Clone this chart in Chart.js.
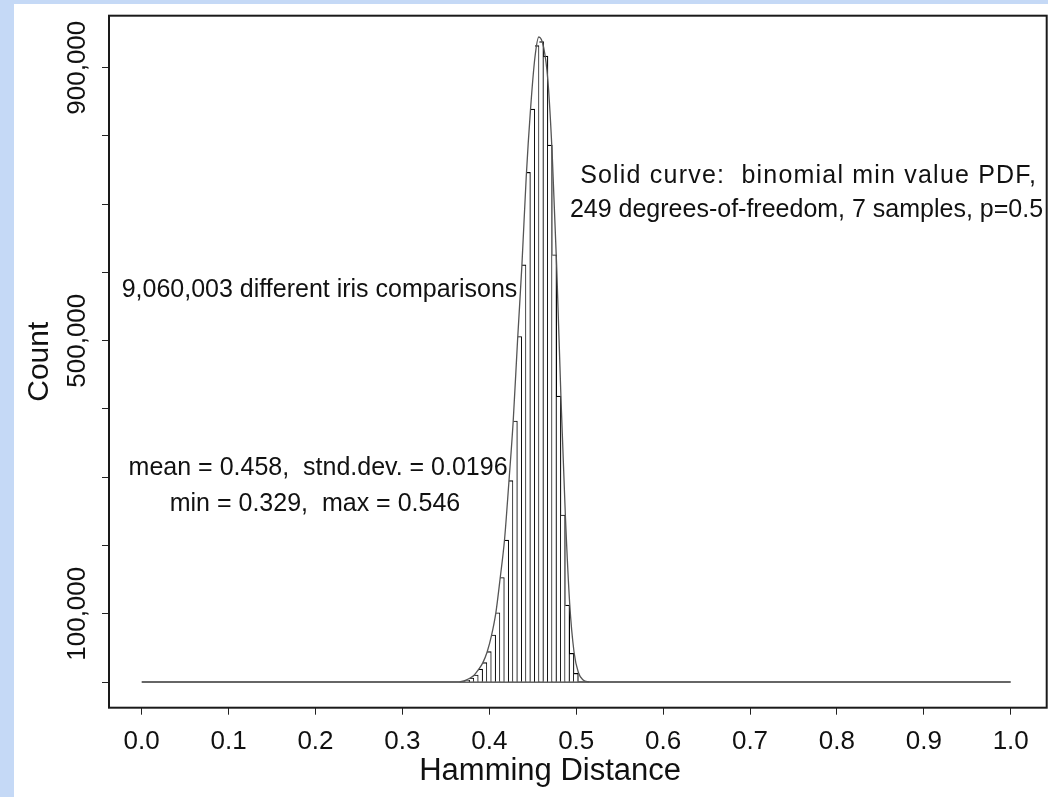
<!DOCTYPE html>
<html>
<head>
<meta charset="utf-8">
<script src="https://cdn.jsdelivr.net/npm/chart.js@4/dist/chart.umd.min.js"></script>
<style>
  html, body { margin: 0; padding: 0; background: #c5d9f6; }
  #wrap { position: absolute; left: 14px; top: 4px; width: 1034px; height: 793px; background: #fff; }
  canvas { display: block; }
</style>
</head>
<body>
<div id="wrap"><canvas id="hdChart" width="1034" height="793"></canvas></div>
<script>
// histogram of Hamming distances (bin centres, counts)
var binCenters = [0.375, 0.380, 0.385, 0.390, 0.395, 0.400, 0.405, 0.410, 0.415, 0.420,
                  0.425, 0.430, 0.435, 0.440, 0.445, 0.450, 0.455, 0.460, 0.465, 0.470,
                  0.475, 0.480, 0.485, 0.490, 0.495, 0.500];
var binCounts = [2900, 5900, 10300, 18800, 28300, 44400, 68900, 101500, 153100, 208000,
                 295200, 382400, 506200, 611300, 746700, 839400, 932500, 938300, 917100, 786700,
                 626000, 419000, 244700, 112800, 42000, 12700];

// solid curve (binomial min value PDF)
var curveX = [0.366, 0.3725, 0.3775, 0.3825, 0.3875, 0.3925, 0.3975, 0.4025, 0.4075, 0.4125,
              0.4175, 0.4225, 0.4275, 0.4325, 0.4375, 0.4425, 0.4475, 0.4525, 0.457, 0.4625,
              0.4675, 0.4725, 0.4775, 0.4825, 0.4875, 0.4925, 0.4975, 0.5025, 0.508, 0.515];
var curveY = [0, 2500, 5500, 10000, 18000, 28000, 44000, 68000, 101000, 152000,
              208000, 292000, 382000, 500000, 610000, 740000, 840000, 915000, 945000, 930000,
              880000, 770000, 610000, 415000, 245000, 115000, 44000, 14000, 3000, 0];

var baseX = [0, 1];
var baseY = [0, 0];

var xTicks = [0, 0.1, 0.2, 0.3, 0.4, 0.5, 0.6, 0.7, 0.8, 0.9, 1.0];
var yTicks = [0, 100000, 200000, 300000, 400000, 500000, 600000, 700000, 800000, 900000];
var yLabelValues = [100000, 500000, 900000];

var xTitle = 'Hamming Distance';
var yTitle = 'Count';

var notes = [
  { text: 'Solid curve:  binomial min value PDF,', x: 0.7675, y: 741300, align: 'center', spacing: 1.2 },
  { text: '249 degrees-of-freedom, 7 samples, p=0.5', x: 0.765, y: 691500, align: 'center', spacing: 0 },
  { text: '9,060,003 different iris comparisons', x: -0.023, y: 573500, align: 'left', spacing: 0 },
  { text: 'mean = 0.458,  stnd.dev. = 0.0196', x: 0.203, y: 313500, align: 'center', spacing: 0 },
  { text: 'min = 0.329,  max = 0.546', x: 0.1994, y: 260800, align: 'center', spacing: 0 }
];

var FONT = '"Liberation Sans", Arial, Helvetica, sans-serif';

var extras = {
  id: 'extras',
  afterDraw: function (chart) {
    var ctx = chart.ctx;
    var a = chart.chartArea;
    var xs = chart.scales.x, ys = chart.scales.y;
    ctx.save();
    // plot frame
    ctx.strokeStyle = '#1a1a1a';
    ctx.lineWidth = 2;
    ctx.strokeRect(a.left, a.top, a.right - a.left, a.bottom - a.top);
    // vertical y tick labels
    ctx.fillStyle = '#111';
    ctx.font = '26px ' + FONT;
    ctx.textAlign = 'center';
    ctx.textBaseline = 'middle';
    yLabelValues.forEach(function (v) {
      ctx.save();
      ctx.translate(a.left - 31.5, ys.getPixelForValue(v));
      ctx.rotate(-Math.PI / 2);
      ctx.fillText(v.toLocaleString('en-US'), 0, 0);
      ctx.restore();
    });
    // x axis title (sits a little left of centre in the original)
    ctx.font = '31px ' + FONT;
    ctx.fillText(xTitle, xs.getPixelForValue(0.47), chart.height - 26);
    // annotations
    ctx.font = '25px ' + FONT;
    notes.forEach(function (n) {
      ctx.textAlign = n.align;
      ctx.letterSpacing = n.spacing + 'px';
      ctx.fillText(n.text, xs.getPixelForValue(n.x), ys.getPixelForValue(n.y));
    });
    ctx.restore();
  }
};

var ctx = document.getElementById('hdChart');

var hdChart = new Chart(ctx, {
  type: 'line',
  data: {
    datasets: [{
      type: 'line',
      label: 'PDF',
      data: curveX.map(function (x, i) { return { x: x, y: curveY[i] }; }),
      borderColor: '#555555',
      borderWidth: 1.3,
      pointRadius: 0,
      fill: false,
      cubicInterpolationMode: 'monotone',
      order: 0
    }, {
      type: 'bar',
      label: 'Count',
      data: binCenters.map(function (x, i) { return { x: x, y: binCounts[i] }; }),
      backgroundColor: '#ffffff',
      borderColor: '#000000',
      borderWidth: { top: 1.2, right: 1.2, left: 0, bottom: 0 },
      borderSkipped: false,
      barPercentage: 1,
      categoryPercentage: 1,
      order: 1
    }, {
      type: 'line',
      label: 'base',
      data: baseX.map(function (x, i) { return { x: x, y: baseY[i] }; }),
      borderColor: '#666666',
      borderWidth: 2,
      pointRadius: 0,
      fill: false,
      order: 2
    }]
  },
  options: {
    responsive: false,
    animation: false,
    devicePixelRatio: 1,
    layout: { padding: { top: 11.7, right: 1.3, left: 0, bottom: 0 } },
    plugins: { legend: { display: false }, tooltip: { enabled: false } },
    scales: {
      x: {
        type: 'linear',
        min: -0.0376,
        max: 1.0414,
        offset: false,
        afterBuildTicks: function (s) { s.ticks = xTicks.map(function (v) { return { value: v }; }); },
        afterFit: function (s) { s.height = 89.3; },
        ticks: {
          callback: function (v) { return Number(v).toFixed(1); },
          font: { size: 26, family: FONT },
          color: '#111',
          padding: 12,
          maxRotation: 0,
          autoSkip: false
        },
        grid: { drawOnChartArea: false, offset: false, tickLength: 7, color: '#222', lineWidth: 1 },
        border: { display: false },
        title: { display: false }
      },
      y: {
        type: 'linear',
        min: -37650,
        max: 976200,
        afterBuildTicks: function (s) { s.ticks = yTicks.map(function (v) { return { value: v }; }); },
        afterFit: function (s) { s.width = 95; },
        ticks: { display: false },
        grid: { drawOnChartArea: false, tickLength: 7, color: '#222', lineWidth: 1 },
        border: { display: false },
        title: {
          display: true,
          text: yTitle,
          font: { size: 30, family: FONT },
          color: '#111',
          padding: { top: 8, bottom: 0 }
        }
      }
    }
  },
  plugins: [extras]
});
</script>
</body>
</html>
